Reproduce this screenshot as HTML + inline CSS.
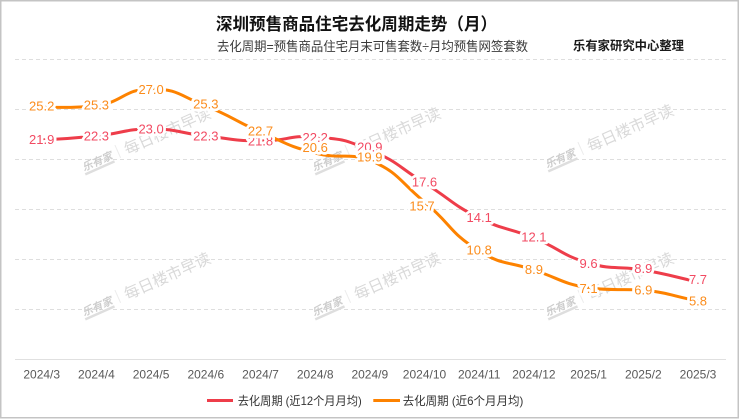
<!DOCTYPE html>
<html><head><meta charset="utf-8"><style>
html,body{margin:0;padding:0;background:#fff;}
svg{display:block;}
</style></head><body>
<svg width="740" height="419" viewBox="0 0 740 419" xmlns="http://www.w3.org/2000/svg">
<rect x="0" y="0" width="740" height="419" fill="#fff"/>
<rect x="0.75" y="0.75" width="737.5" height="417" fill="none" stroke="#c4c4c4" stroke-width="1.5"/>

<!-- titles -->
<text x="216" y="30" font-family="'Liberation Sans','Noto Sans CJK SC',sans-serif" font-size="17" font-weight="bold" fill="#111" textLength="281" lengthAdjust="spacingAndGlyphs">深圳预售商品住宅去化周期走势（月）</text>
<text x="217" y="51" font-family="'Liberation Sans','Noto Sans CJK SC',sans-serif" font-size="13" fill="#3a3a3a" textLength="311" lengthAdjust="spacingAndGlyphs">去化周期=预售商品住宅月末可售套数÷月均预售网签套数</text>
<text x="573" y="50" font-family="'Liberation Sans','Noto Sans CJK SC',sans-serif" font-size="12.5" font-weight="bold" fill="#1a1a1a" textLength="111" lengthAdjust="spacingAndGlyphs">乐有家研究中心整理</text>

<!-- grid -->
<g stroke="#dedede" stroke-width="1" stroke-dasharray="4 3">
<line x1="15" y1="59.5" x2="726" y2="59.5"/>
<line x1="15" y1="109.5" x2="726" y2="109.5"/>
<line x1="15" y1="159.5" x2="726" y2="159.5"/>
<line x1="15" y1="209.5" x2="726" y2="209.5"/>
<line x1="15" y1="259.5" x2="726" y2="259.5"/>
<line x1="15" y1="309.5" x2="726" y2="309.5"/>
</g>
<line x1="15" y1="359.5" x2="726" y2="359.5" stroke="#e0e0e0" stroke-width="1"/>

<!-- watermarks -->
<defs>
<g id="wm">
<text x="-46" y="-2.5" font-family="'Liberation Sans','Noto Sans CJK SC',sans-serif" font-size="10.5" font-weight="bold" font-style="italic" fill="#cdcdcd" textLength="32" lengthAdjust="spacingAndGlyphs">乐有家</text>
<rect x="-46" y="-0.5" width="32" height="2.5" fill="#dedede"/>
<line x1="-7" y1="-14" x2="-7" y2="0" stroke="#ececec" stroke-width="1"/>
<text x="0" y="0" font-family="'Liberation Sans','Noto Sans CJK SC',sans-serif" font-size="15.5" fill="#d9d9d9" textLength="93" lengthAdjust="spacingAndGlyphs">每日楼市早读</text>
</g>
</defs>
<use href="#wm" transform="translate(127,155) rotate(-24)"/>
<use href="#wm" transform="translate(357,155) rotate(-24)"/>
<use href="#wm" transform="translate(590,152) rotate(-24)"/>
<use href="#wm" transform="translate(127,300) rotate(-24)"/>
<use href="#wm" transform="translate(357,300) rotate(-24)"/>
<use href="#wm" transform="translate(590,300) rotate(-24)"/>

<!-- series lines -->
<path fill="none" stroke="#ee3d4a" stroke-width="3" stroke-linejoin="round" stroke-linecap="round" d="M41.7,140 C41.7,140 69.1,138.7 96.4,136 C123.8,133.2 123.8,129 151.1,129 C178.4,129 178.4,133 205.8,136 C233.1,139 233.1,140.75 260.5,141 C287.8,141.25 288.2,134.8 315.2,137 C342.9,139.3 344.2,139.2 369.8,150 C398.9,162.2 397.4,166.1 424.5,183 C452.1,200.1 450.4,203.5 479.2,218 C505.1,231 507.0,226.9 533.9,238 C561.7,249.4 560.1,254.7 588.6,263 C614.8,270.7 616.2,265.3 643.3,270 C670.9,274.8 670.65,276 698,282"/>
<path fill="none" stroke="#fd8200" stroke-width="3" stroke-linejoin="round" stroke-linecap="round" d="M41.7,107 C41.7,107 69.7,108.4 96.4,106 C124.4,101.4 123.75,89 151.1,89 C178.45,89 179.2,95.55 205.8,106 C233.9,117.05 232.7,120.05 260.5,132 C287.4,143.55 287.0,145.8 315.2,153 C341.7,159.8 345.5,152.1 369.8,160 C400.2,173.6 398.0,180.0 424.5,202 C452.7,225.5 448.6,232.0 479.2,251 C503.3,266.0 506.5,260.7 533.9,270 C561.2,279.2 560.6,282.9 588.6,288 C615.3,290.9 616.2,288.8 643.3,290 C670.9,293.3 670.65,295.5 698,301"/>

<!-- labels -->
<g font-family="'Liberation Sans',sans-serif" font-size="13" text-anchor="middle" stroke="#fff" stroke-width="5.5" stroke-linejoin="round" paint-order="stroke" fill="#f24a62">
<text x="41.7" y="144.1">21.9</text>
<text x="96.4" y="140.3">22.3</text>
<text x="151.1" y="133.6">23.0</text>
<text x="205.8" y="140.3">22.3</text>
<text x="260.5" y="145.6">21.8</text>
<text x="315.2" y="141.9">22.2</text>
<text x="369.8" y="151.3">20.9</text>
<text x="424.5" y="186.3">17.6</text>
<text x="479.2" y="221.9">14.1</text>
<text x="533.9" y="241.3">12.1</text>
<text x="588.6" y="267.9">9.6</text>
<text x="643.3" y="272.9">8.9</text>
<text x="698" y="283.9">7.7</text>
</g>
<g font-family="'Liberation Sans',sans-serif" font-size="13" text-anchor="middle" stroke="#fff" stroke-width="5.5" stroke-linejoin="round" paint-order="stroke" fill="#fb8c1c">
<text x="41.7" y="110.6">25.2</text>
<text x="96.4" y="109.6">25.3</text>
<text x="151.1" y="93.9">27.0</text>
<text x="205.8" y="108.6">25.3</text>
<text x="260.5" y="135.3">22.7</text>
<text x="315.2" y="151.9">20.6</text>
<text x="369.8" y="161.3">19.9</text>
<text x="422" y="210.6">15.7</text>
<text x="479.2" y="254.6">10.8</text>
<text x="533.9" y="273.9">8.9</text>
<text x="588.6" y="292.9">7.1</text>
<text x="643.3" y="294.6">6.9</text>
<text x="698" y="305.3">5.8</text>
</g>

<!-- x axis labels -->
<g font-family="'Liberation Sans',sans-serif" font-size="12" fill="#595959" text-anchor="middle">
<text x="41.7" y="378.5">2024/3</text>
<text x="96.4" y="378.5">2024/4</text>
<text x="151.1" y="378.5">2024/5</text>
<text x="205.8" y="378.5">2024/6</text>
<text x="260.5" y="378.5">2024/7</text>
<text x="315.2" y="378.5">2024/8</text>
<text x="369.8" y="378.5">2024/9</text>
<text x="424.5" y="378.5">2024/10</text>
<text x="479.2" y="378.5">2024/11</text>
<text x="533.9" y="378.5">2024/12</text>
<text x="588.6" y="378.5">2025/1</text>
<text x="643.3" y="378.5">2025/2</text>
<text x="698" y="378.5">2025/3</text>
</g>

<!-- legend -->
<line x1="207" y1="400.5" x2="233" y2="400.5" stroke="#ee3d4a" stroke-width="3"/>
<text x="237.7" y="405" font-family="'Liberation Sans','Noto Sans CJK SC',sans-serif" font-size="12" fill="#333" textLength="124" lengthAdjust="spacingAndGlyphs">去化周期 (近12个月月均)</text>
<line x1="373.3" y1="400.5" x2="400" y2="400.5" stroke="#fd8200" stroke-width="3"/>
<text x="402.7" y="405" font-family="'Liberation Sans','Noto Sans CJK SC',sans-serif" font-size="12" fill="#333" textLength="120.6" lengthAdjust="spacingAndGlyphs">去化周期 (近6个月月均)</text>
</svg>
</body></html>
